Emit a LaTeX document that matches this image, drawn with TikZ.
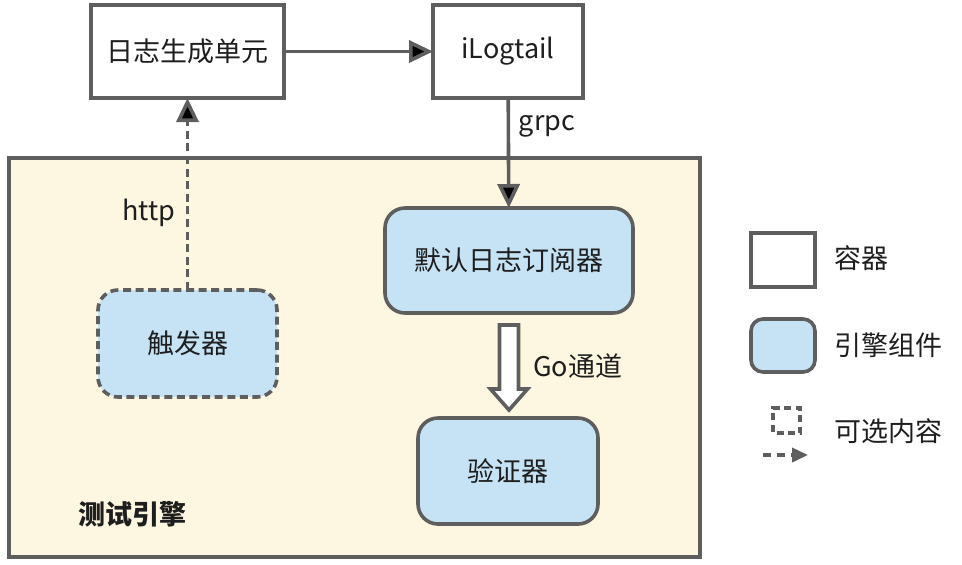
\documentclass[tikz,border=0pt]{standalone}
\usepackage{fontspec}
\setmainfont{Noto Sans CJK SC}
\usepackage{tikz}
\usetikzlibrary{positioning}
\usetikzlibrary{calc}
\usetikzlibrary{arrows.meta}
\definecolor{linegray}{HTML}{5E5E5E}
\definecolor{enginebg}{HTML}{FDF6E1}
\definecolor{compblue}{HTML}{C6E3F5}
\definecolor{textdark}{HTML}{1E1E1E}

\begin{document}
\begin{tikzpicture}[%
	x=0.5pt, y=-0.5pt,
	font=\fontsize{13.5}{16}\selectfont, text=textdark,
	base/.style={draw=linegray, line width=1.8pt, align=center, outer sep=0pt,
		inner sep=0pt},
	container/.style={base, fill=white},
	component/.style={base, fill=compblue, rounded corners=10pt},
	optional/.style={dash pattern=on 4pt off 2.3pt},
	arrow/.style={draw=linegray, line width=1.8pt,
		arrows={-{Triangle[length=12pt, width=11pt]}}},
	smallarrow/.style={draw=linegray, line width=1.8pt,
		arrows={-{Triangle[length=8pt, width=7pt]}}},
	hollow/.style={draw=linegray, line width=1.8pt, fill=white, line join=miter}%
	]
	\useasboundingbox (0,0) rectangle (962,564);
	%
	% Nodes
	%
	\node[base, fill=enginebg, minimum width=345.5pt, minimum height=199.5pt] (ENGINE) at (354.5, 357.5) {};
	\node[anchor=west, font=\fontsize{13.5}{16}\selectfont\bfseries] (ENGINENAME) at (71, 514) {测试引擎};
	\node[container, minimum width=96.5pt, minimum height=46.5pt] (LOGGEN) at (187.5, 51.5) {日志生成单元};
	\node[container, minimum width=75pt, minimum height=46.5pt] (ILOGTAIL) at (508, 51.5) {iLogtail};
	\node[component, minimum width=124pt, minimum height=52.5pt] (SUBSCRIBER) at (509, 260.5) {默认日志订阅器};
	\node[component, optional, minimum width=89.5pt, minimum height=53.5pt] (TRIGGER) at (187.5, 343.5) {触发器};
	\node[component, minimum width=90pt, minimum height=53pt] (VALIDATOR) at (508, 471) {验证器};
	\node[anchor=west] (GOLABEL) at (526, 366) {Go通道};
	%
	% Legend
	%
	\node[container, minimum width=32pt, minimum height=27pt] (LEGCONT) at (783, 260) {};
	\node[component, rounded corners=6pt, minimum width=32pt, minimum height=26.5pt] (LEGCOMP) at (783, 345.5) {};
	\node[base, dash pattern=on 3.5pt off 2.25pt, dash phase=-1.75pt, minimum width=13.5pt, minimum height=12.5pt] (LEGOPT) at (786.5, 420.5) {};
	\coordinate (LEGFROM) at (763, 455);
	\coordinate (LEGTO) at (808, 455);
	\node[anchor=west] (TXTCONT) at (827, 258) {容器};
	\node[anchor=west] (TXTCOMP) at (827, 345) {引擎组件};
	\node[anchor=west] (TXTOPT) at (827, 431) {可选内容};
	%
	% Connectors
	%
	\path[arrow] (LOGGEN) edge (ILOGTAIL);
	\path[arrow] (ILOGTAIL) edge node[pos=0.26, right=1pt] {grpc} (SUBSCRIBER);
	\path[arrow, optional] (TRIGGER) edge node[pos=0.4, left=2pt] {http} (LOGGEN);
	\draw[smallarrow, dash pattern=on 4pt off 3pt] (LEGFROM) -- (LEGTO);
	\coordinate (GOTOP) at ($(SUBSCRIBER.south)+(0, 12)$);
	\draw[hollow] ($(GOTOP)+(-9.5, 0)$) -- ++(19, 0) -- ++(0, 64) -- ++(9, 0)
		-- ++(-18.5, 21) -- ++(-18.5, -21) -- ++(9, 0) -- cycle;
\end{tikzpicture}
\end{document}
